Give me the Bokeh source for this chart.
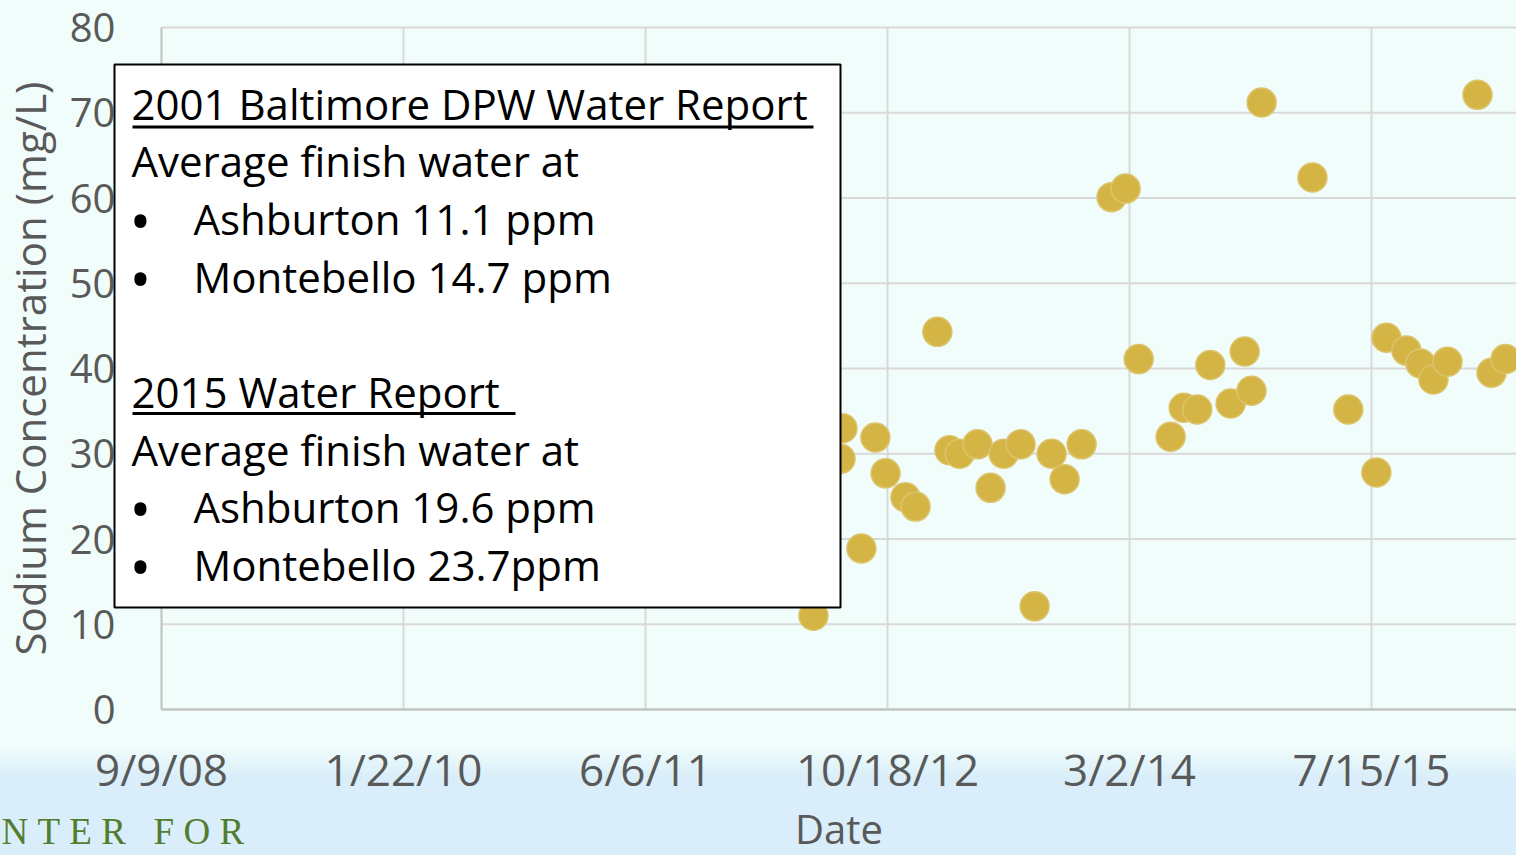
import pandas as pd
from bokeh.plotting import figure
from bokeh.models import Range1d, FixedTicker, BoxAnnotation, Label, ColumnDataSource
from bokeh.embed import file_html
from bokeh.resources import INLINE

# ---------------- data ----------------
sample_dates = [
    "2012-05-18", "2012-07-13", "2012-07-17", "2012-08-25", "2012-09-23",
    "2012-10-14", "2012-11-24", "2012-12-15", "2013-01-29", "2013-02-23",
    "2013-03-16", "2013-04-22", "2013-05-19", "2013-06-15", "2013-07-20",
    "2013-08-18", "2013-09-22", "2013-10-19", "2013-11-23", "2014-01-24",
    "2014-02-22", "2014-03-21", "2014-05-26", "2014-06-22", "2014-07-20",
    "2014-08-16", "2014-09-27", "2014-10-26", "2014-11-09", "2014-11-30",
    "2015-03-15", "2015-05-28", "2015-07-25", "2015-08-15", "2015-09-25",
    "2015-10-24", "2015-11-20", "2015-12-19", "2016-02-19", "2016-03-19",
    "2016-04-17",
]
sodium_mg_per_l = [
    11.0, 29.4, 33.0, 18.9, 31.9,
    27.7, 24.9, 23.8, 44.3, 30.4,
    30.0, 31.1, 26.0, 30.0, 31.1,
    12.1, 30.0, 27.0, 31.1, 60.1,
    61.1, 41.1, 32.0, 35.4, 35.2,
    40.4, 35.9, 42.0, 37.4, 71.2,
    62.4, 35.2, 27.8, 43.6, 42.1,
    40.6, 38.7, 40.8, 72.1, 39.5,
    41.1,
]
tick_dates = ["2008-09-09", "2010-01-22", "2011-06-06", "2012-10-18", "2014-03-02", "2015-07-15"]
tick_labels = ["9/9/08", "1/22/10", "6/6/11", "10/18/12", "3/2/14", "7/15/15"]
y_ticks = [0, 10, 20, 30, 40, 50, 60, 70, 80]

box_lines = [
    "2001 Baltimore DPW Water Report",
    "Average finish water at",
    "Ashburton 11.1 ppm",
    "Montebello 14.7 ppm",
    "2015 Water Report ",
    "Average finish water at",
    "Ashburton 19.6 ppm",
    "Montebello 23.7ppm",
]
bulleted = [False, False, True, True, False, False, True, True]
NB = "\u00a0"
logo_text = NB.join("NTER") + NB * 3 + NB.join("FOR")

# ---------------- layout (pixels) ----------------
W, H = 1516, 855
AX_LEFT, AX_TOP, AX_BOTTOM = 161, 27, 709     # plot area edges
PX_PER_DAY = 242 / 500
PX_PER_UNIT = (AX_BOTTOM - AX_TOP) / 80

x0 = pd.Timestamp(tick_dates[0])
x_start = x0 - pd.Timedelta(days=AX_LEFT / PX_PER_DAY)
x_end = x0 + pd.Timedelta(days=(W - AX_LEFT) / PX_PER_DAY)
y_start = -(H - AX_BOTTOM) / PX_PER_UNIT
y_end = 80 + AX_TOP / PX_PER_UNIT

ms_start = x_start.value / 1e6
ms_end = x_end.value / 1e6
ms_per_px = (ms_end - ms_start) / W


def dx(px):
    return ms_start + px * ms_per_px


def dy(py):
    return y_end - py / PX_PER_UNIT


p = figure(width=W, height=H, x_axis_type="datetime", title=None,
           x_range=Range1d(x_start, x_end), y_range=Range1d(y_start, y_end),
           output_backend="svg", toolbar_location=None,
           min_border_left=0, min_border_right=0, min_border_top=0, min_border_bottom=0)

p.border_fill_color = None
p.background_fill_color = None
p.outline_line_color = None
p.styles = {"background": "linear-gradient(180deg, #f1fdfb 0px, #f1fdfb 745px, #d9eefa 778px, #d9eefa 855px)"}
p.xgrid.visible = False
p.ygrid.visible = False

tick_ms = [pd.Timestamp(d).value / 1e6 for d in tick_dates]

# ---- grid lines (drawn through the plot's scales) ----
p.segment(x0=[tick_ms[0]] * len(y_ticks), x1=[ms_end] * len(y_ticks),
          y0=y_ticks, y1=y_ticks, line_color="#d9d9d9", line_width=2, level="underlay")
p.segment(x0=tick_ms[1:], x1=tick_ms[1:], y0=[y_ticks[0]] * (len(tick_ms) - 1),
          y1=[y_ticks[-1]] * (len(tick_ms) - 1), line_color="#d9d9d9", line_width=2,
          level="underlay")

# ---- axes ----
xa = p.xaxis[0]
xa.fixed_location = y_ticks[0]
xa.bounds = (tick_ms[0], ms_end)
xa.ticker = FixedTicker(ticks=tick_ms)
xa.major_label_overrides = {float(t): lab for t, lab in zip(tick_ms, tick_labels)}
xa.axis_line_color = "#bfbfbf"
xa.axis_line_width = 2
xa.major_tick_line_color = None
xa.minor_tick_line_color = None
xa.major_tick_in = 0
xa.major_tick_out = 0
xa.major_label_text_font = "Open Sans"
xa.major_label_text_font_size = "44px"
xa.major_label_text_color = "#595959"
xa.major_label_standoff = 29
xa.axis_label = "Date"
xa.axis_label_text_font = "Open Sans"
xa.axis_label_text_font_size = "40px"
xa.axis_label_text_font_style = "normal"
xa.axis_label_text_color = "#595959"
xa.axis_label_standoff = -1

ya = p.yaxis[0]
ya.fixed_location = tick_ms[0]
ya.bounds = (y_ticks[0], y_ticks[-1])
ya.ticker = FixedTicker(ticks=y_ticks)
ya.axis_line_color = "#bfbfbf"
ya.axis_line_width = 2
ya.major_tick_line_color = None
ya.minor_tick_line_color = None
ya.major_tick_in = 0
ya.major_tick_out = 0
ya.major_label_text_font = "Open Sans"
ya.major_label_text_font_size = "40px"
ya.major_label_text_color = "#595959"
ya.major_label_standoff = 46
ya.axis_label = "Sodium Concentration (mg/L)"
ya.axis_label_text_font = "Open Sans"
ya.axis_label_text_font_size = "42px"
ya.axis_label_text_font_style = "normal"
ya.axis_label_text_color = "#595959"
ya.axis_label_standoff = 9

# ---- data points ----
src = ColumnDataSource(dict(date=pd.to_datetime(sample_dates), sodium=sodium_mg_per_l))
p.scatter("date", "sodium", source=src, size=29, fill_color="#d3b445",
          line_color="#dcc46c", line_width=1.5)

# ---------------- text box annotation ----------------
p.add_layout(BoxAnnotation(left=dx(114), right=dx(840), top=dy(64), bottom=dy(607),
                           fill_color="white", fill_alpha=1.0,
                           line_color="black", line_width=2, line_alpha=1.0))

centers = [102.5, 160.2, 217.9, 275.6, 391.0, 448.7, 506.4, 564.1]
for text, bul, cy in zip(box_lines, bulleted, centers):
    if bul:
        p.add_layout(Label(x=dx(129), y=dy(cy + 2), text="\u2022", text_font="Open Sans",
                           text_font_size="58px", text_color="black",
                           text_baseline="middle"))
        p.add_layout(Label(x=dx(193), y=dy(cy), text=text, text_font="Open Sans",
                           text_font_size="42px", text_color="black",
                           text_baseline="middle"))
    else:
        p.add_layout(Label(x=dx(131), y=dy(cy), text=text, text_font="Open Sans",
                           text_font_size="42px", text_color="black",
                           text_baseline="middle"))

# underlines of the two headings
p.add_layout(BoxAnnotation(left=dx(132), right=dx(813), top=dy(125), bottom=dy(128),
                           fill_color="black", fill_alpha=1.0, line_color=None))
p.add_layout(BoxAnnotation(left=dx(132), right=dx(515), top=dy(411.5), bottom=dy(414.5),
                           fill_color="black", fill_alpha=1.0, line_color=None))

# fragment of the slide's logo, bottom left
p.add_layout(Label(x=dx(1), y=dy(831), text=logo_text, text_font="Liberation Serif",
                   text_font_size="37px", text_color="#527d2d", text_baseline="middle"))

open("out.html", "w").write(file_html(p, INLINE))
